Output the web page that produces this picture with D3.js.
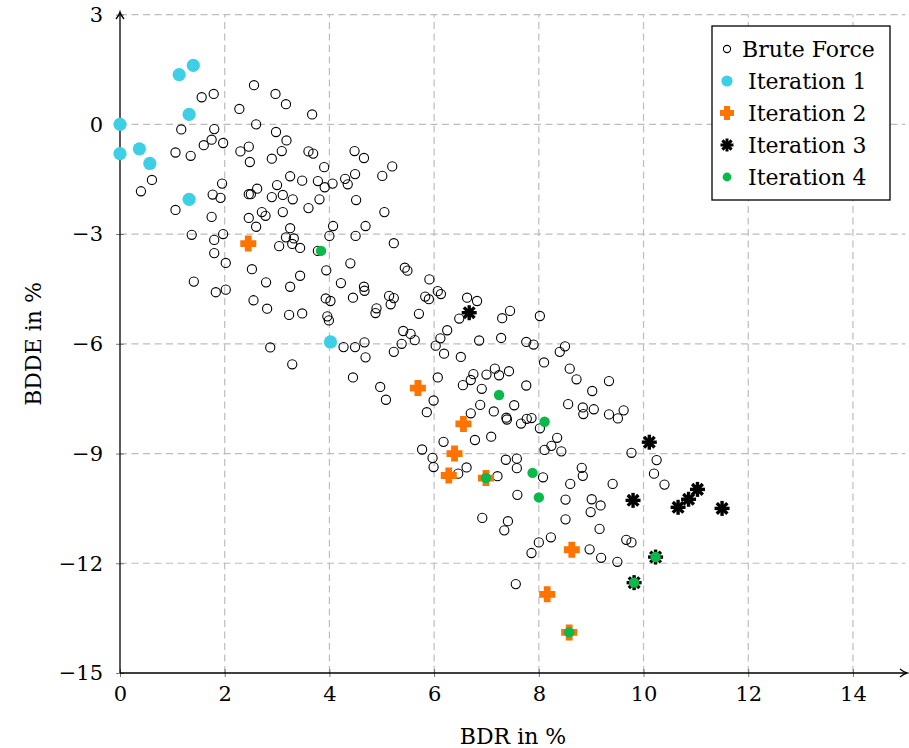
<!DOCTYPE html>
<html>
<head>
<meta charset="utf-8">
<script src="https://cdn.jsdelivr.net/npm/d3@7/dist/d3.min.js"></script>
<style>
  html, body { margin: 0; padding: 0; background: #fff; }
  svg { display: block; }
  svg text { font-family: 'DejaVu Serif', serif; fill: #000; }
</style>
</head>
<body>
<svg id="chart" width="909" height="748"></svg>
<script>
// Axis ticks
const xTicks = [0, 2, 4, 6, 8, 10, 12, 14];
const yTicks = [-15, -12, -9, -6, -3, 0, 3];

// [BDR %, BDDE %] for every evaluated configuration
const bruteForce = [
  [2.56,1.07],[2.97,0.83],[1.56,0.74],[1.79,0.83],[2.28,0.42],[2.60,0.00],[1.17,-0.14],[1.80,-0.13],
  [2.98,-0.21],[1.75,-0.42],[1.60,-0.57],[1.97,-0.51],[2.46,-0.61],[2.30,-0.74],[1.06,-0.77],[1.35,-0.86],
  [2.48,-1.03],[2.90,-0.94],[0.61,-1.52],[0.40,-1.83],[1.95,-1.62],[1.77,-1.92],[1.92,-2.01],[2.46,-1.91],
  [2.50,-1.91],[2.62,-1.76],[2.90,-1.99],[3.00,-1.66],[1.06,-2.34],[1.75,-2.53],[2.46,-2.56],[2.71,-2.40],
  [2.78,-2.50],[2.60,-2.80],[3.17,0.55],[3.67,0.27],[3.18,-0.44],[3.09,-0.73],[3.60,-0.74],[3.69,-0.80],
  [4.48,-0.73],[4.66,-0.92],[3.90,-1.17],[5.20,-1.15],[5.01,-1.41],[3.25,-1.42],[3.48,-1.54],[3.78,-1.55],
  [3.91,-1.72],[4.06,-1.62],[4.30,-1.49],[4.35,-1.64],[4.49,-1.36],[3.11,-1.93],[3.30,-2.05],[3.81,-2.05],
  [4.51,-2.07],[3.60,-2.29],[3.11,-2.40],[5.05,-2.40],[3.25,-2.84],[4.07,-2.78],[4.69,-2.78],[1.37,-3.02],
  [1.80,-3.16],[1.97,-3.00],[3.04,-3.33],[1.80,-3.52],[2.02,-3.79],[2.52,-3.96],[1.41,-4.30],[2.79,-4.32],
  [1.83,-4.59],[2.02,-4.52],[2.55,-4.81],[2.81,-5.04],[2.87,-6.10],[3.17,-3.09],[3.32,-3.12],[3.29,-3.27],
  [3.44,-3.38],[4.00,-3.05],[4.50,-3.05],[5.23,-3.25],[3.78,-3.46],[4.40,-3.80],[3.94,-3.99],[5.44,-3.92],
  [5.49,-4.00],[3.44,-4.14],[4.22,-4.34],[5.91,-4.24],[3.25,-4.44],[4.66,-4.44],[4.67,-4.55],[6.07,-4.56],
  [6.13,-4.64],[4.45,-4.74],[3.93,-4.76],[4.02,-4.83],[5.14,-4.69],[5.23,-4.75],[5.17,-4.92],[5.83,-4.71],
  [5.90,-4.78],[4.90,-5.03],[4.88,-5.16],[3.23,-5.21],[3.48,-5.17],[5.71,-5.18],[3.96,-5.25],[3.99,-5.36],
  [5.41,-5.65],[5.55,-5.73],[5.63,-5.90],[6.25,-5.63],[6.12,-5.85],[6.03,-6.05],[6.19,-6.27],[4.27,-6.09],
  [4.49,-6.09],[4.67,-5.96],[4.69,-6.37],[5.38,-6.00],[5.23,-6.22],[3.29,-6.56],[4.45,-6.92],[4.97,-7.18],
  [6.07,-6.92],[5.08,-7.53],[5.99,-7.55],[6.63,-4.74],[6.82,-4.83],[6.48,-5.31],[7.30,-5.30],[7.45,-5.10],
  [8.02,-5.24],[6.86,-5.91],[7.28,-5.84],[7.76,-5.95],[7.90,-6.02],[6.51,-6.36],[8.50,-6.07],[8.40,-6.22],
  [8.10,-6.51],[8.59,-6.68],[8.72,-6.97],[9.34,-7.02],[9.02,-7.29],[7.16,-6.68],[7.00,-6.84],[7.24,-6.86],
  [7.43,-6.75],[6.75,-6.83],[6.70,-6.99],[6.55,-7.13],[6.91,-7.23],[7.76,-7.14],[8.56,-7.65],[5.86,-7.87],
  [6.88,-7.67],[6.70,-7.90],[7.14,-7.85],[7.53,-7.68],[7.38,-8.02],[7.39,-8.07],[7.66,-8.18],[7.77,-8.05],
  [7.86,-8.03],[8.02,-8.31],[8.84,-7.74],[8.85,-7.92],[9.05,-7.79],[6.18,-8.68],[6.78,-8.63],[7.09,-8.54],
  [8.35,-8.57],[8.24,-8.79],[8.11,-8.90],[8.43,-8.94],[5.77,-8.89],[5.97,-9.12],[5.99,-9.37],[6.46,-9.55],
  [6.62,-9.38],[7.21,-9.62],[7.37,-9.17],[7.58,-9.14],[7.58,-9.40],[8.08,-9.65],[8.82,-9.39],[8.84,-9.61],
  [8.60,-9.83],[7.59,-10.13],[8.51,-10.26],[9.01,-10.25],[8.99,-10.60],[9.18,-10.42],[8.51,-10.80],[6.92,-10.76],
  [7.41,-10.85],[7.34,-11.10],[9.16,-11.06],[8.23,-11.29],[8.00,-11.43],[7.86,-11.72],[8.97,-11.62],[9.34,-7.93],
  [9.51,-8.04],[9.62,-7.82],[9.77,-8.98],[10.25,-9.18],[10.20,-9.55],[10.40,-9.85],[9.41,-9.83],[9.67,-11.36],
  [9.77,-11.43],[9.19,-11.85],[9.50,-11.96],[7.56,-12.57]
];

const iteration1 = [
  [1.40,1.61],[1.13,1.36],[1.32,0.27],[0.00,0.00],[0.00,-0.80],[0.37,-0.67],[0.57,-1.07],[1.32,-2.05],[4.02,-5.95]
];
const iteration2 = [
  [2.45,-3.26],[5.69,-7.21],[6.56,-8.19],[6.39,-9.00],[6.28,-9.60],[6.99,-9.67],[8.63,-11.63],[8.16,-12.85],[8.58,-13.89]
];
const iteration3 = [
  [6.67,-5.15],[10.11,-8.69],[9.80,-10.28],[10.66,-10.47],[10.86,-10.25],[11.03,-9.98],[11.50,-10.50],[10.23,-11.83],[9.82,-12.53]
];
const iteration4 = [
  [3.84,-3.46],[7.24,-7.40],[8.11,-8.13],[6.99,-9.67],[7.88,-9.53],[8.00,-10.20],[10.23,-11.83],[9.82,-12.53],[8.58,-13.89]
];

const legendLabels = ["Brute Force", "Iteration 1", "Iteration 2", "Iteration 3", "Iteration 4"];
const xLabel = "BDR in %";
const yLabel = "BDDE in %";

const colors = { it1: "#3ccfe6", it2: "#ff7300", it3: "#000000", it4: "#0bb84a", grid: "#bdbdbd" };
const FONT = "'DejaVu Serif', serif";

const svg = d3.select("#chart");
const x = d3.scaleLinear().domain([0, 15]).range([120, 905.3]);
const y = d3.scaleLinear().domain([-15, 3]).range([673, 14.6]);

// dashed grid
const grid = svg.append("g").attr("stroke", colors.grid).attr("stroke-width", 1.2).attr("stroke-dasharray", "7,4.5");
grid.selectAll(".gx").data(xTicks.filter(d => d > 0)).join("line")
  .attr("x1", d => x(d)).attr("x2", d => x(d)).attr("y1", y(-15)).attr("y2", y(3));
grid.selectAll(".gy").data(yTicks.filter(d => d > -15)).join("line")
  .attr("x1", x(0)).attr("x2", x(15)).attr("y1", d => y(d)).attr("y2", d => y(d));

// axes (labels + tick marks)
const xAxis = svg.append("g").attr("transform", `translate(0,${y(-15)})`)
  .call(d3.axisBottom(x).tickValues(xTicks).tickSizeInner(4).tickSizeOuter(0).tickPadding(9));
const yAxis = svg.append("g").attr("transform", `translate(${x(0)},0)`)
  .call(d3.axisLeft(y).tickValues(yTicks).tickSizeInner(4).tickSizeOuter(0).tickPadding(13));
[xAxis, yAxis].forEach(g => {
  g.attr("font-family", FONT).attr("font-size", 21);
  g.select(".domain").remove();
  g.selectAll("text").attr("font-family", FONT).style("font-family", FONT).style("font-size", "21px");
  g.selectAll(".tick line").attr("stroke", "#777").attr("stroke-width", 1);
});
xAxis.selectAll(".tick line").attr("y1", -4).attr("y2", 4);
yAxis.selectAll(".tick line").attr("x1", -4).attr("x2", 4);

// axis lines with arrow heads
const axisG = svg.append("g").attr("stroke", "#000").attr("stroke-width", 1.3).attr("fill", "none");
axisG.append("line").attr("x1", x(0)).attr("x2", 906).attr("y1", y(-15)).attr("y2", y(-15));
axisG.append("line").attr("x1", x(0)).attr("x2", x(0)).attr("y1", y(-15)).attr("y2", 13);
axisG.append("path").attr("d", `M${906 - 6},${y(-15) - 4} Q${906 - 2},${y(-15) - 0.8} ${907},${y(-15)} Q${906 - 2},${y(-15) + 0.8} ${906 - 6},${y(-15) + 4}`);
axisG.append("path").attr("d", `M${x(0) - 4},${13 + 6} Q${x(0) - 0.8},${13 + 2} ${x(0)},${12} Q${x(0) + 0.8},${13 + 2} ${x(0) + 4},${13 + 6}`);

// axis titles
svg.append("text").attr("x", 513).attr("y", 744).attr("text-anchor", "middle")
  .style("font-family", FONT).style("font-size", "22px").text(xLabel);
svg.append("text").attr("transform", `translate(41,344) rotate(-90)`).attr("text-anchor", "middle")
  .style("font-family", FONT).style("font-size", "22px").text(yLabel);

// marker shapes
const crossPath = (s, t) => `M${-t},${-s}H${t}V${-t}H${s}V${t}H${t}V${s}H${-t}V${t}H${-s}V${-t}H${-t}Z`;
function drawAsterisk(g, r, w) {
  [0, 45, 90, 135].forEach(a => {
    g.append("line").attr("x1", 0).attr("y1", -r).attr("x2", 0).attr("y2", r)
      .attr("transform", `rotate(${a})`).attr("stroke", colors.it3).attr("stroke-width", w);
  });
}

const marks = svg.append("g");
marks.append("g").selectAll("circle").data(bruteForce).join("circle")
  .attr("cx", d => x(d[0])).attr("cy", d => y(d[1])).attr("r", 4.6)
  .attr("fill", "none").attr("stroke", "#000").attr("stroke-width", 1.1);
marks.append("g").selectAll("circle").data(iteration1).join("circle")
  .attr("cx", d => x(d[0])).attr("cy", d => y(d[1])).attr("r", 6.6).attr("fill", colors.it1);
marks.append("g").selectAll("path").data(iteration2).join("path")
  .attr("transform", d => `translate(${x(d[0])},${y(d[1])})`)
  .attr("d", crossPath(8, 3.4)).attr("fill", colors.it2);
marks.append("g").selectAll("g").data(iteration3).join("g")
  .attr("transform", d => `translate(${x(d[0])},${y(d[1])})`)
  .each(function () { drawAsterisk(d3.select(this), 7.5, 3.4); });
marks.append("g").selectAll("circle").data(iteration4).join("circle")
  .attr("cx", d => x(d[0])).attr("cy", d => y(d[1])).attr("r", 5.2).attr("fill", colors.it4);

// legend
const lg = svg.append("g");
lg.append("rect").attr("x", 712).attr("y", 26).attr("width", 178).attr("height", 174)
  .attr("fill", "#fff").attr("stroke", "#000").attr("stroke-width", 1.3);
const rowY = i => 49 + i * 32;
legendLabels.forEach((label, i) => {
  const m = lg.append("g").attr("transform", `translate(727,${rowY(i)})`);
  if (i === 0) m.append("circle").attr("r", 3.6).attr("fill", "none").attr("stroke", "#000").attr("stroke-width", 1.1);
  if (i === 1) m.append("circle").attr("r", 5.6).attr("fill", colors.it1);
  if (i === 2) m.append("path").attr("d", crossPath(7, 3)).attr("fill", colors.it2);
  if (i === 3) drawAsterisk(m, 6.5, 3);
  if (i === 4) m.append("circle").attr("r", 4.4).attr("fill", colors.it4);
  lg.append("text").attr("x", i === 0 ? 742 : 748).attr("y", rowY(i) + 8)
    .style("font-family", FONT).style("font-size", "22px").text(label);
});
</script>
</body>
</html>
